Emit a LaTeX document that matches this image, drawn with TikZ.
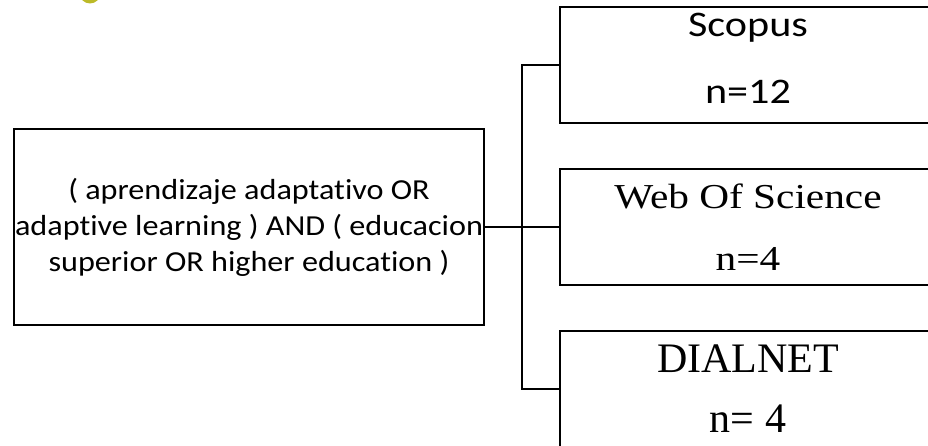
\documentclass[tikz,border=0pt]{standalone}
\usepackage{fontspec}
\setmainfont{Liberation Serif}
\newfontfamily\querysans[FakeStretch=1.11, Ligatures=NoCommon]{Carlito}
\newfontfamily\dbsans[FakeStretch=1.17, Ligatures=NoCommon]{Carlito}
\newfontfamily\dbserif[FakeStretch=1.18]{Liberation Serif}
\definecolor{dotolive}{RGB}{188,186,40}
\tikzset{
  box/.style  = {draw=black, line width=1.6pt, align=center, inner sep=0pt,
                 fill=white},
  dbox/.style = {box, minimum width=376pt, minimum height=116pt},
  link/.style = {draw=black, line width=1.6pt},
}

\begin{document}
\begin{tikzpicture}[x=1pt, y=-1pt]
  \clip (0,0) rectangle (928,446);
  \fill[dotolive] (90,-7) circle (10.5);
  \node[box, minimum width=470pt, minimum height=196pt,
        font=\querysans\fontsize{29}{36}\selectfont] (query) at (249,227)
        {( aprendizaje adaptativo OR\\adaptive learning ) AND ( educacion\\superior OR higher education )};
  \node[dbox, font=\dbsans\fontsize{36}{67}\selectfont] (scopus) at (748,65)
        {Scopus\\n=12\rule[-14pt]{0pt}{14pt}};
  \node[dbox, font=\dbserif\fontsize{35}{62}\selectfont] (wos) at (748,227)
        {Web Of Science\\n=4};
  \node[dbox, font=\rmfamily\fontsize{42}{60}\selectfont] (dialnet) at (748,389)
        {DIALNET\\n= 4};
  \coordinate (fork) at (522,227);
  \draw[link] (query.east) -- (wos.west);
  \draw[link] (scopus.west) -| (fork) |- (dialnet.west);
\end{tikzpicture}
\end{document}
